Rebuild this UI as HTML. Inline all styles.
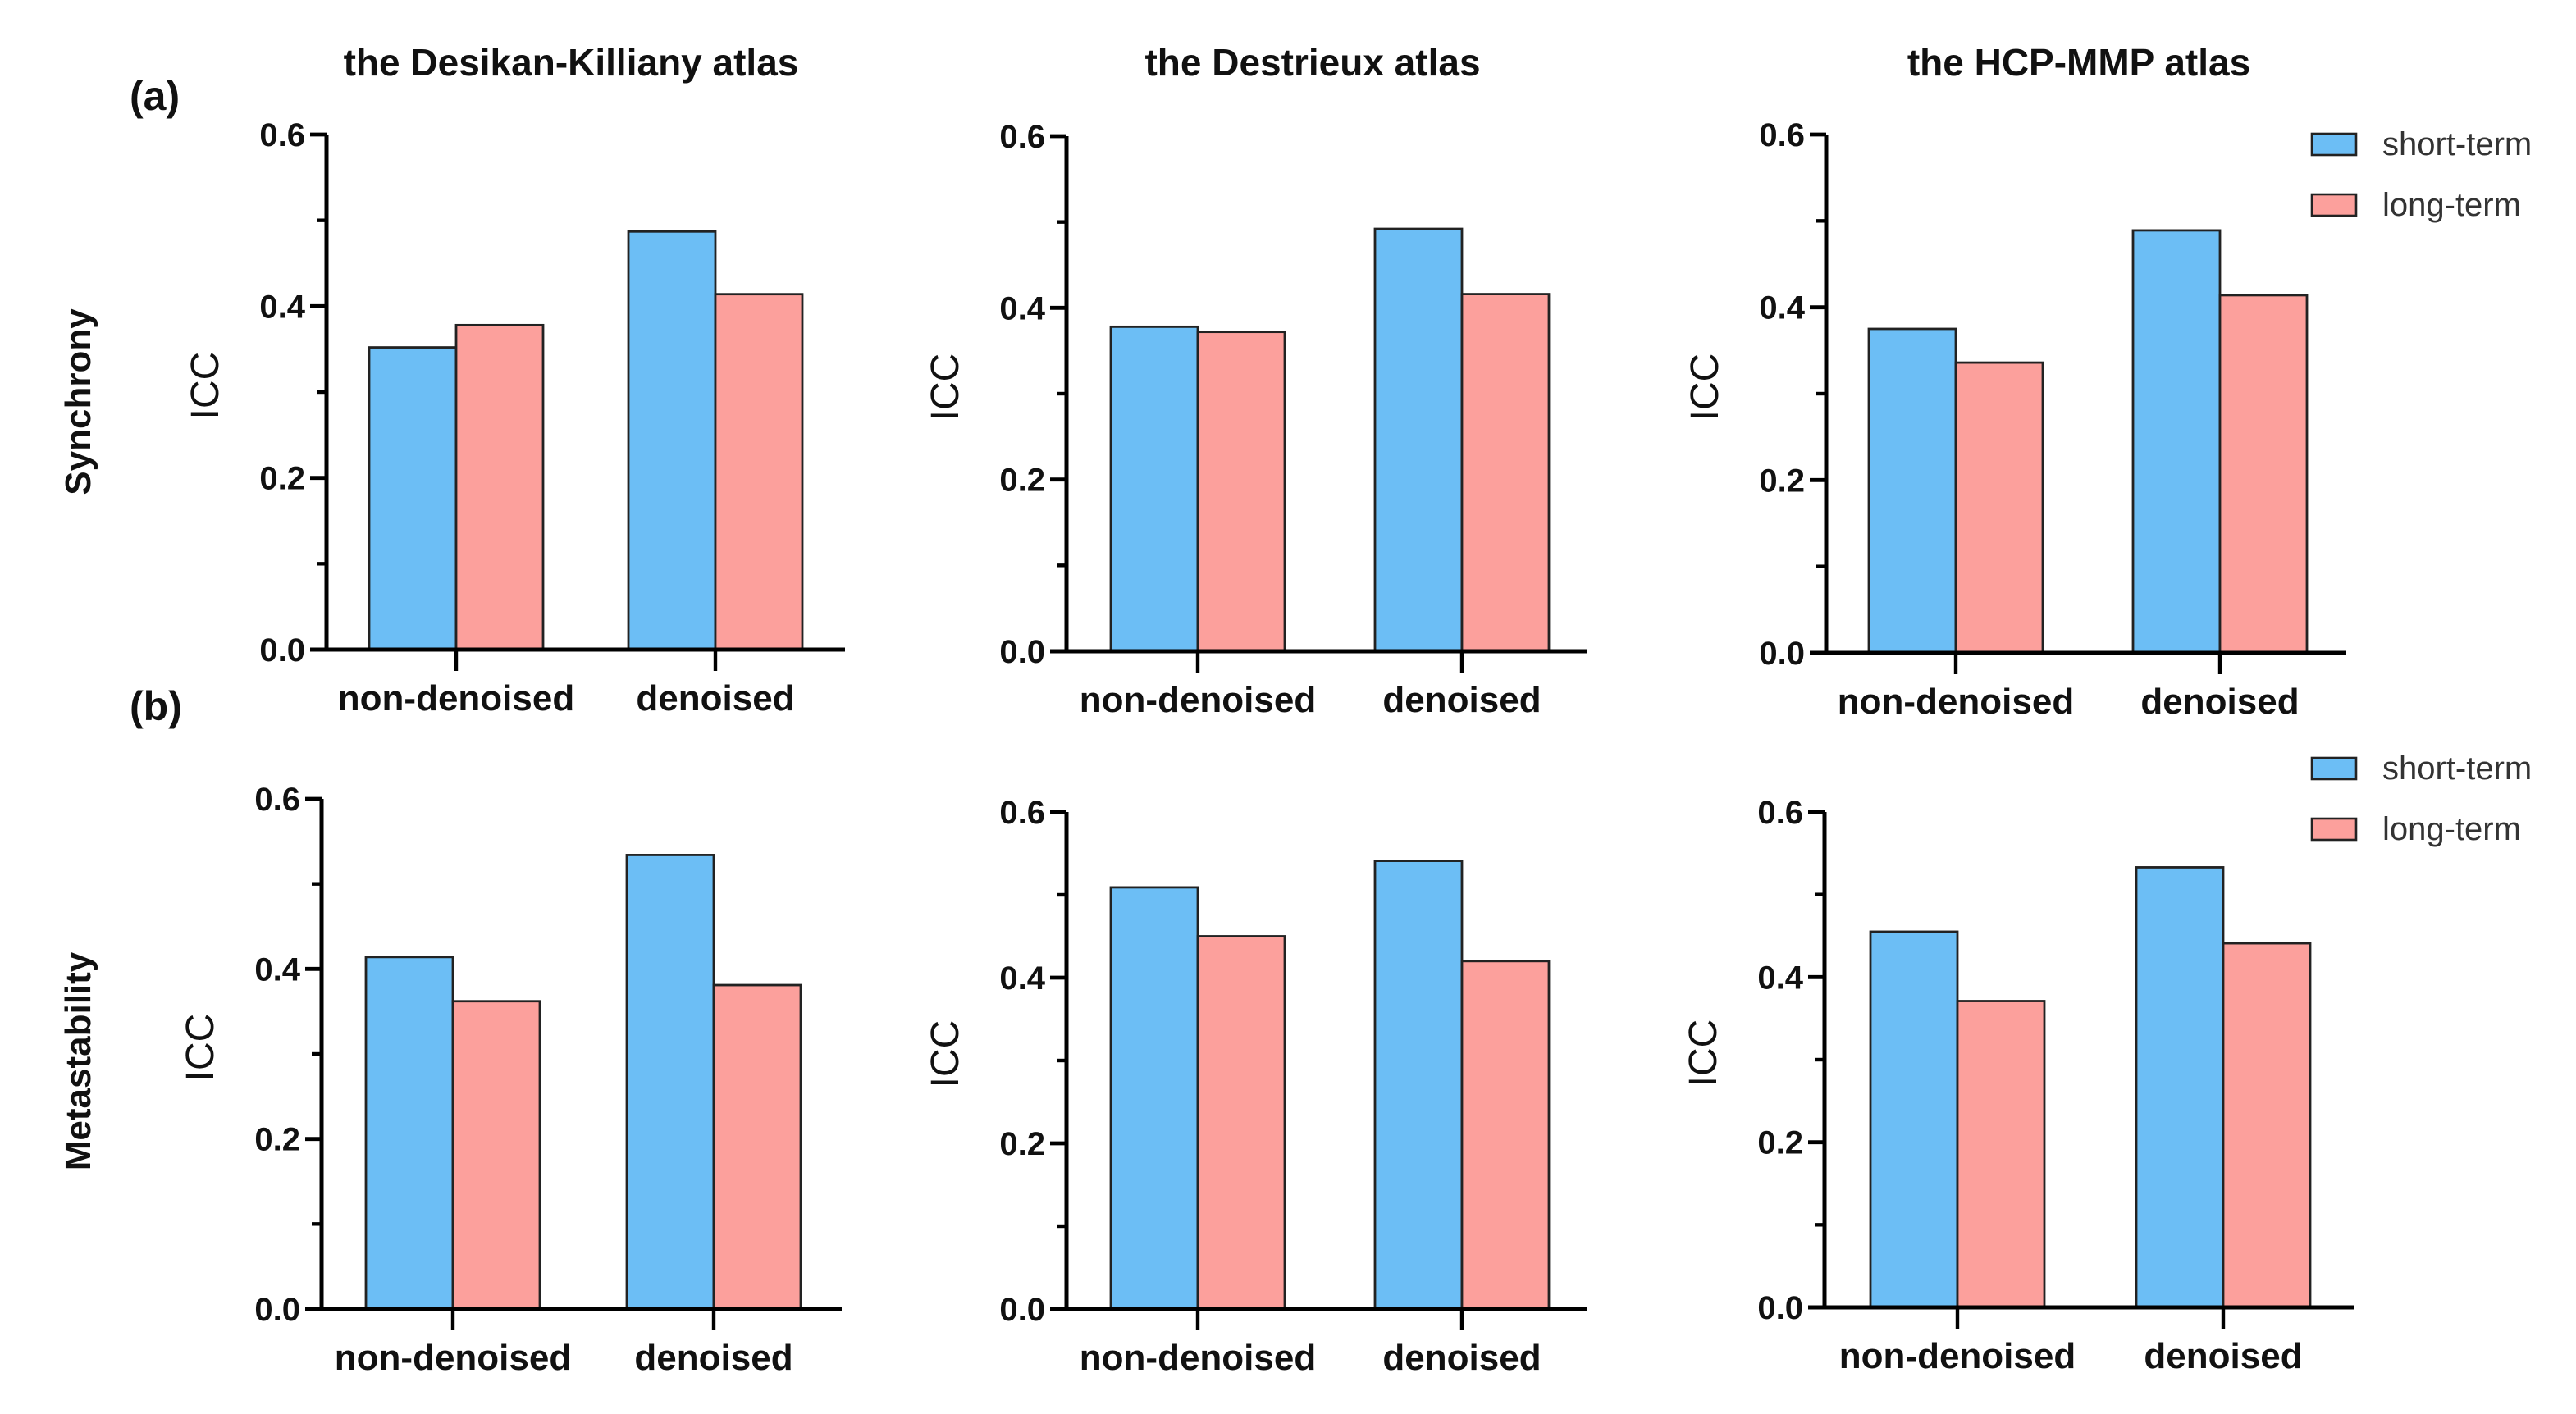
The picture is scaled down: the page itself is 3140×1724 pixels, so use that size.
<!DOCTYPE html>
<html><head><meta charset="utf-8"><style>
html,body{margin:0;padding:0;background:#fff;}
svg{display:block;}
text{font-family:"Liberation Sans",sans-serif;}
</style></head><body>
<svg id="fig" width="3140" height="1724" viewBox="0 0 1570 862" xmlns="http://www.w3.org/2000/svg">
<g id="root"></g>
</svg>
<script>
const categories = ["non-denoised","denoised"];
const seriesNames = ["short-term","long-term"];
const yTicks = [0.0,0.2,0.4,0.6];
const yTickLabels = ["0.0","0.2","0.4","0.6"];
const minorTicks = [0.1,0.3,0.5];
const atlasTitles = ["the Desikan-Killiany atlas","the Destrieux atlas","the HCP-MMP atlas"];
// values [panel][category][series]
const syncDK = [[0.352,0.378],[0.487,0.414]];
const syncDes = [[0.378,0.372],[0.492,0.416]];
const syncHCP = [[0.375,0.336],[0.489,0.414]];
const metaDK = [[0.414,0.362],[0.534,0.381]];
const metaDes = [[0.509,0.450],[0.541,0.420]];
const metaHCP = [[0.455,0.371],[0.533,0.441]];

const NS="http://www.w3.org/2000/svg";
const root=document.getElementById('root');
function mk(tag,attrs,parent){const e=document.createElementNS(NS,tag);for(const k in attrs)e.setAttribute(k,attrs[k]);(parent||root).appendChild(e);return e;}
const colors=["#6cbef5","#fca09c"];

const panels=[
 {vals:syncDK, ax:199, y6:82, y0:396, xe:515, b0:225, bw:53, g:158, name:'synchrony-desikan'},
 {vals:syncDes, ax:650, y6:83, y0:397, xe:967, b0:677, bw:53, g:161, name:'synchrony-destrieux'},
 {vals:syncHCP, ax:1113, y6:82, y0:398, xe:1430, b0:1139, bw:53, g:161, name:'synchrony-hcp'},
 {vals:metaDK, ax:196, y6:487, y0:798, xe:513, b0:223, bw:53, g:159, name:'metastability-desikan'},
 {vals:metaDes, ax:650, y6:495, y0:798, xe:967, b0:677, bw:53, g:161, name:'metastability-destrieux'},
 {vals:metaHCP, ax:1112, y6:495, y0:797, xe:1435, b0:1140, bw:53, g:162, name:'metastability-hcp'}
];

panels.forEach((p,pi)=>{
  const g=mk('g',{});
  
  
  const ys=v=>p.y0-(v/0.6)*(p.y0-p.y6);
  p.vals.forEach((cat,ci)=>{
    cat.forEach((v,si)=>{
      const x=p.b0+ci*p.g+si*p.bw;
      const r=mk('rect',{x:x,y:ys(v),width:p.bw,height:p.y0-ys(v),fill:colors[si],stroke:'#222','stroke-width':1.4},g);
      
      
    });
  });
  const ya=mk('line',{x1:p.ax,y1:p.y6,x2:p.ax,y2:p.y0,stroke:'#000','stroke-width':2.5},g);
  
  
  yTicks.forEach((t,ti)=>{
    mk('line',{x1:p.ax-10,y1:ys(t),x2:p.ax,y2:ys(t),stroke:'#000','stroke-width':2.4},g);
    const tx=mk('text',{x:p.ax-13,y:ys(t)+7,'text-anchor':'end','font-size':20,'font-weight':'bold',fill:'#111'},g);
    tx.textContent=yTickLabels[ti];
    
    
  });
  minorTicks.forEach(t=>{mk('line',{x1:p.ax-6,y1:ys(t),x2:p.ax,y2:ys(t),stroke:'#000','stroke-width':2.2},g);});
  const xa=mk('line',{x1:p.ax-10,y1:p.y0,x2:p.xe,y2:p.y0,stroke:'#000','stroke-width':2.5},g);
  
  
  categories.forEach((c,ci)=>{
    const cx=p.b0+ci*p.g+p.bw;
    mk('line',{x1:cx,y1:p.y0,x2:cx,y2:p.y0+13,stroke:'#000','stroke-width':2.2},g);
    const tx=mk('text',{x:cx,y:p.y0+37,'text-anchor':'middle','font-size':22,'font-weight':'bold',fill:'#111'},g);
    tx.textContent=c;
    
    
  });
  const icy=(p.y6+p.y0)/2-4;
  const ic=mk('text',{x:0,y:0,transform:`translate(${p.ax-66},${icy}) rotate(-90)`,'text-anchor':'middle','font-size':24,fill:'#111'},g);
  ic.textContent='ICC';
  
  
});

const titleX=[348,800,1267];
atlasTitles.forEach((t,i)=>{
  const tx=mk('text',{x:titleX[i],y:46,'text-anchor':'middle','font-size':23,'font-weight':'bold',fill:'#111'});
  tx.textContent=t;
  
  
});
[['(a)',67],['(b)',439]].forEach(([l,y])=>{
  const tx=mk('text',{x:79,y:y,'font-size':25,'font-weight':'bold',fill:'#111'});
  tx.textContent=l;
  
  
});
[['Synchrony',245],['Metastability',647]].forEach(([l,y])=>{
  const tx=mk('text',{x:0,y:0,transform:`translate(55,${y}) rotate(-90)`,'text-anchor':'middle','font-size':22,'font-weight':'bold',fill:'#111'});
  tx.textContent=l;
  
  
});
[81.5,462].forEach(ly=>{
  seriesNames.forEach((s,si)=>{
    const y=ly+si*37;
    const r=mk('rect',{x:1409,y:y,width:27,height:13,fill:colors[si],stroke:'#222','stroke-width':1.3});
    
    
    const tx=mk('text',{x:1452,y:y+13,'font-size':20,fill:'#333'});
    tx.textContent=s;
    
    
  });
});
</script>
</body></html>
